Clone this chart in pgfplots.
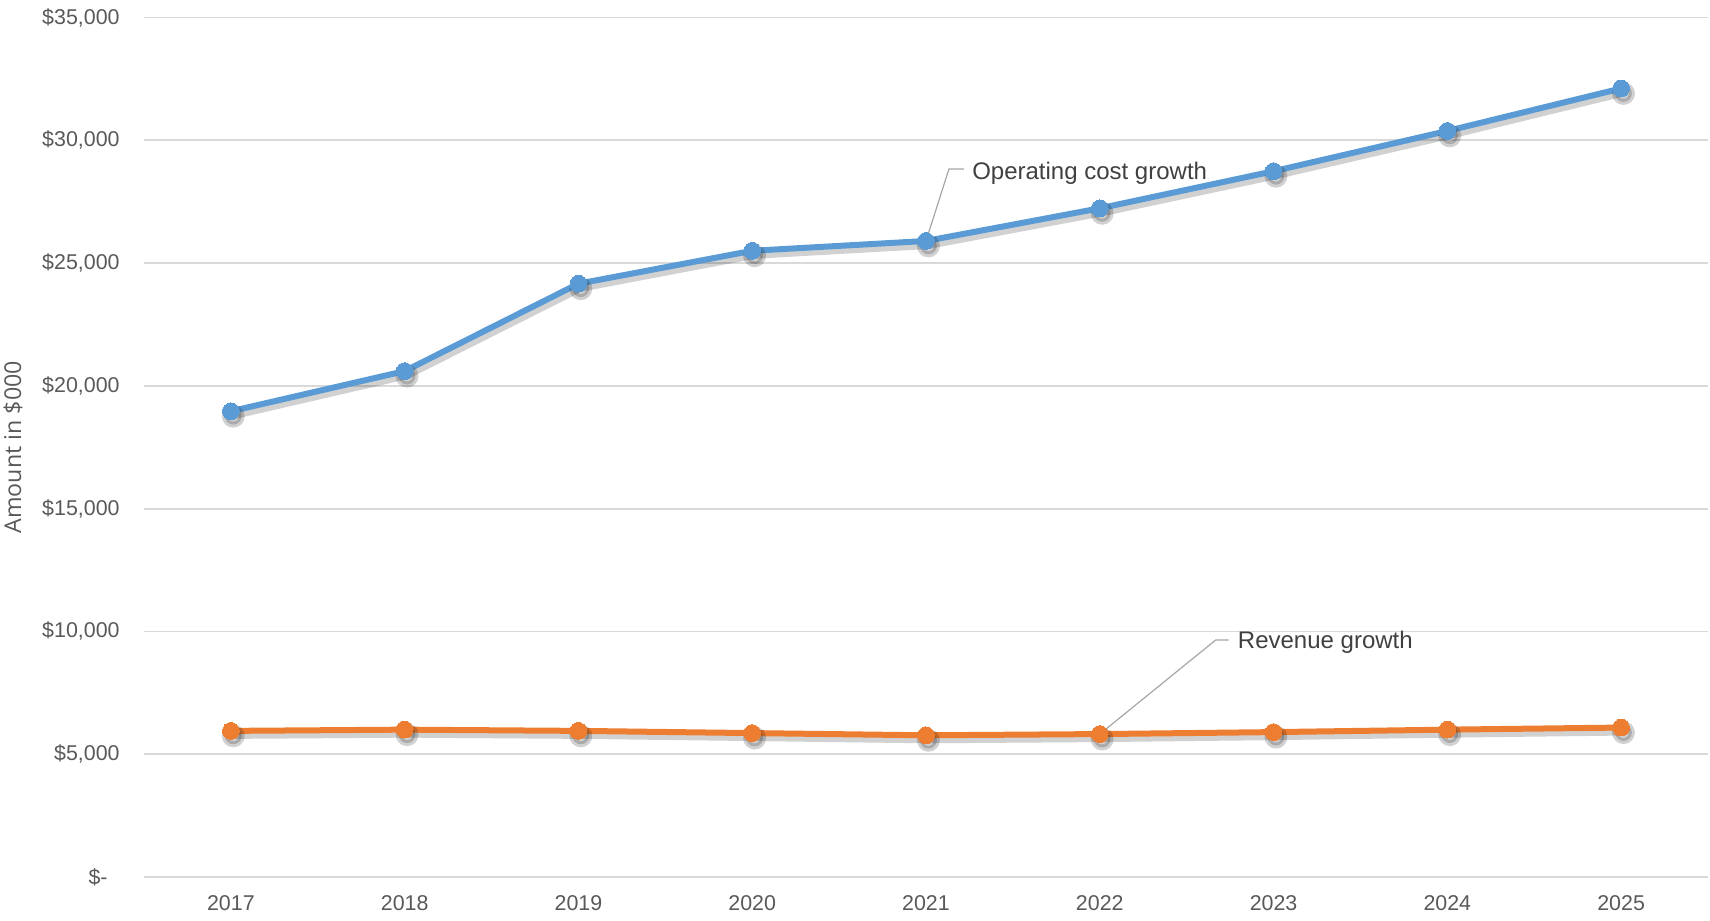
\documentclass[border=0pt]{standalone}
\usepackage{pgfplots}
\pgfplotsset{compat=1.18}
\usepackage{fontspec}
\setmainfont{Liberation Sans}
\newfontfamily\labfont{Open Sans}
\definecolor{cblue}{HTML}{5B9BD5}
\definecolor{corange}{HTML}{ED7D31}
\definecolor{cgrid}{HTML}{D9D9D9}
\definecolor{ctext}{HTML}{595959}
\definecolor{cdark}{HTML}{404040}
\definecolor{cleader}{HTML}{A6A6A6}
\begin{document}
\begin{tikzpicture}
\begin{axis}[
  at={(72pt,22pt)}, anchor=south west,
  scale only axis,
  width=782pt, height=429.75pt,
  xmin=-0.5, xmax=8.5, ymin=0, ymax=35000,
  xtick={0,...,8},
  xticklabels={2017,2018,2019,2020,2021,2022,2023,2024,2025},
  ytick={0,5000,10000,15000,20000,25000,30000,35000},
  yticklabels={{\$-\kern6pt},{\$5,000},{\$10,000},{\$15,000},{\$20,000},{\$25,000},{\$30,000},{\$35,000}},
  tick style={draw=none},
  major tick length=0pt,
  axis line style={draw=none},
  ymajorgrids,
  grid style={cgrid, line width=0.9pt},
  ticklabel style={font=\fontsize{10.7}{12}\selectfont, text=ctext, inner sep=0pt},
  yticklabel style={xshift=-12pt},
  xticklabel style={yshift=-9pt},
  ylabel={\labfont\fontsize{11.6}{13}\selectfont Amount in \$000},
  every axis y label/.style={at={(axis description cs:0,0.5)}, xshift=-65.5pt, rotate=90, anchor=center, text=ctext},
  clip=false,
]
% shadows
\addplot[black, opacity=0.18, line width=3pt, mark=*, mark size=4.2pt, shift={(1.2pt,-2.5pt)}] coordinates {
(0,18966) (1,20600) (2,24160) (3,25500) (4,25900) (5,27230) (6,28740) (7,30380) (8,32110)};
\addplot[black, opacity=0.18, line width=3pt, mark=*, mark size=4.2pt, shift={(1.2pt,-2.5pt)}] coordinates {
(0,5950) (1,6000) (2,5950) (3,5860) (4,5770) (5,5820) (6,5900) (7,6000) (8,6085)};
% series
\addplot[cblue, line width=3pt, mark=*, mark size=4.2pt, mark options={fill=cblue, draw=cblue, line width=0pt}] coordinates {
(0,18966) (1,20600) (2,24160) (3,25500) (4,25900) (5,27230) (6,28740) (7,30380) (8,32110)};
\addplot[corange, line width=3pt, mark=*, mark size=4.2pt, mark options={fill=corange, draw=corange, line width=0pt}] coordinates {
(0,5950) (1,6000) (2,5950) (3,5860) (4,5770) (5,5820) (6,5900) (7,6000) (8,6085)};
% data labels
\draw[cleader, line width=0.6pt] (axis cs:4,25900) -- (axis cs:4.132,28827) -- (axis cs:4.218,28827);
\node[anchor=west, inner sep=0pt, text=cdark, font=\fontsize{12}{14}\selectfont, yshift=-2pt] at (axis cs:4.264,28827) {Operating cost growth};
\draw[cleader, line width=0.6pt] (axis cs:5,5820) -- (axis cs:5.667,9650) -- (axis cs:5.741,9650);
\node[anchor=west, inner sep=0pt, text=cdark, font=\fontsize{12}{14}\selectfont, yshift=-1pt] at (axis cs:5.793,9650) {Revenue growth};
\end{axis}
\pgfresetboundingbox
\path (0,0) rectangle (855pt,460.5pt);
\end{tikzpicture}
\end{document}
